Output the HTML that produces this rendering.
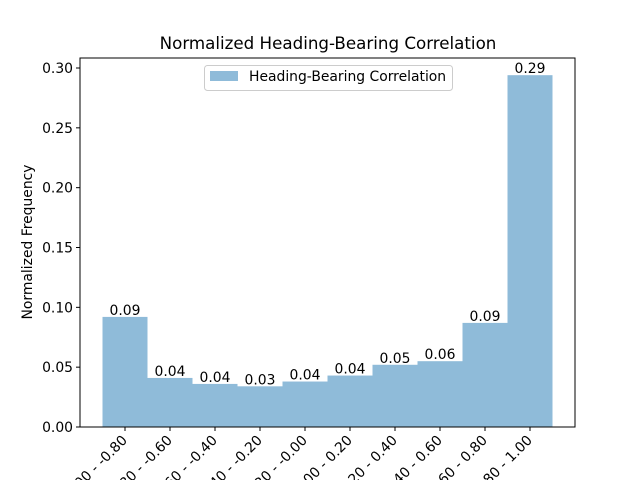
<!DOCTYPE html>
<html><head><meta charset="utf-8"><style>
body{margin:0;background:#fff}
svg{display:block;font-family:"DejaVu Sans","Liberation Sans",sans-serif}
</style></head><body>
<svg id="c" width="640" height="480" xmlns="http://www.w3.org/2000/svg">
<rect width="640" height="480" fill="#fff"/>
<text x="328" y="49" text-anchor="middle" font-size="16.7">Normalized Heading-Bearing Correlation</text>
<g id="bars"></g>
<g id="ticks"></g>
<rect x="80" y="58" width="495" height="369" fill="none" stroke="#000" stroke-width="1"/>
<text transform="translate(32,242) rotate(-90)" text-anchor="middle" font-size="13.9">Normalized Frequency</text>
<g>
<rect x="204.5" y="65.5" width="248" height="25" rx="3" fill="#fff" fill-opacity="0.8" stroke="#ccc"/>
<rect x="210" y="71" width="28" height="10" fill="#1f77b4" fill-opacity="0.5"/>
<text x="249" y="81" font-size="13.9">Heading-Bearing Correlation</text>
</g>
</svg>
<script>
const categories=["-1.00 - -0.80","-0.80 - -0.60","-0.60 - -0.40","-0.40 - -0.20","-0.20 - -0.00","0.00 - 0.20","0.20 - 0.40","0.40 - 0.60","0.60 - 0.80","0.80 - 1.00"];
const values=[0.092,0.041,0.036,0.034,0.038,0.043,0.052,0.055,0.087,0.294];
const valueLabels=["0.09","0.04","0.04","0.03","0.04","0.04","0.05","0.06","0.09","0.29"];
const yTicks=[0,0.05,0.10,0.15,0.20,0.25,0.30];
const yTickLabels=["0.00","0.05","0.10","0.15","0.20","0.25","0.30"];
const NS="http://www.w3.org/2000/svg";
const L=80,R=575,B=427,pxPerUnit=359/0.30;
const xs=i=>L+(i+1)*(R-L)/11;
const ys=v=>B-v*pxPerUnit;
function mk(t,a,p){const e=document.createElementNS(NS,t);for(const k in a)e.setAttribute(k,a[k]);p.appendChild(e);return e;}
const bars=document.getElementById('bars'),ticks=document.getElementById('ticks');
const bw=(R-L)/11;
values.forEach((v,i)=>{
 const r=mk('rect',{x:xs(i)-bw/2,y:ys(v),width:bw,height:B-ys(v),fill:'#1f77b4','fill-opacity':0.5},bars);
 
 
 const t=mk('text',{x:xs(i),y:ys(v)-2,'text-anchor':'middle','font-size':13.9},bars);
 t.textContent=valueLabels[i];
 
 
 mk('line',{x1:xs(i),x2:xs(i),y1:B,y2:B+4,stroke:'#000'},ticks);
 const xl=mk('text',{transform:`translate(${xs(i)+3},${B+14}) rotate(-45)`,'text-anchor':'end','font-size':13.9},ticks);
 xl.textContent=categories[i];
 
 
});
yTicks.forEach((v,i)=>{
 mk('line',{x1:L-4,x2:L,y1:ys(v),y2:ys(v),stroke:'#000'},ticks);
 const t=mk('text',{x:L-7,y:ys(v)+5,'text-anchor':'end','font-size':13.9},ticks);
 t.textContent=yTickLabels[i];
 
 
});
</script>
</body></html>
